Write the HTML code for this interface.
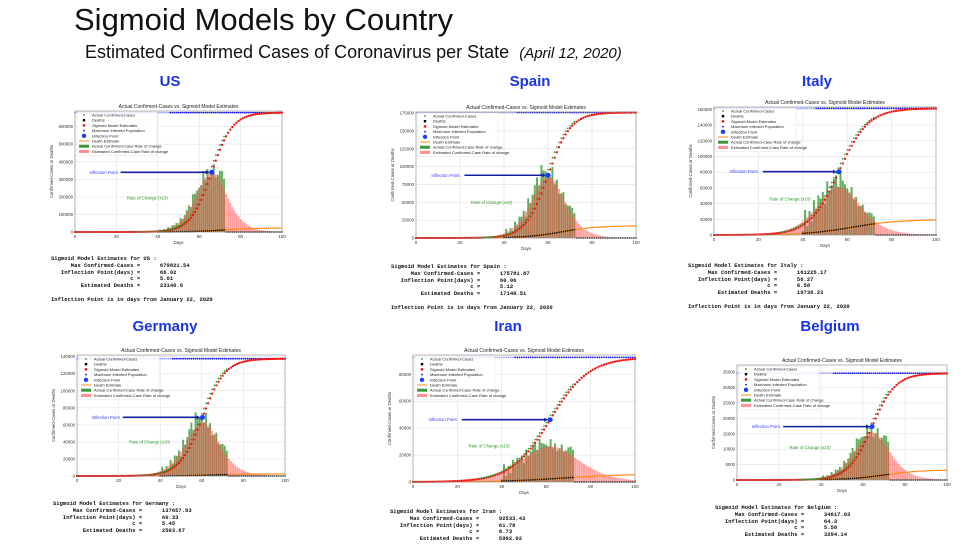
<!DOCTYPE html>
<html><head><meta charset="utf-8"><style>
body{margin:0;background:#fff;width:974px;height:547px;overflow:hidden;position:relative;font-family:"Liberation Sans",sans-serif}
.t{position:absolute;white-space:nowrap}
pre{position:absolute;margin:0;font-family:"Liberation Mono",monospace;font-size:5.5px;line-height:6.8px;color:#111;font-weight:bold}
.cn{position:absolute;color:#1a35e6;font-weight:bold;font-size:15px;transform:translateX(-50%)}
</style></head><body>
<div class="t" style="left:74px;top:2px;font-size:31px;color:#111">Sigmoid Models by Country</div>
<div class="t" style="left:85px;top:42px;font-size:18px;color:#111">Estimated Confirmed Cases of Coronavirus per State &nbsp;<i style="font-size:15px">(April 12, 2020)</i></div>
<div class="cn" style="left:170px;top:73px">US</div>
<div class="cn" style="left:530px;top:73px">Spain</div>
<div class="cn" style="left:817px;top:73px">Italy</div>
<div class="cn" style="left:165px;top:318px">Germany</div>
<div class="cn" style="left:508px;top:318px">Iran</div>
<div class="cn" style="left:830px;top:318px">Belgium</div>
<svg id="s" width="974" height="547" style="position:absolute;left:0;top:0"></svg>
<div id="texts"></div>
<script>
const countries = ['US','Spain','Italy','Germany','Iran','Belgium'];
const maxCases = [679821.54,175781.87,161225.17,137657.93,92533.43,34617.03];
const inflection = [66.02,60.06,56.27,60.33,61.78,64.3];
const cParam = [5.01,5.12,6.58,5.45,8.73,5.58];
const deaths = [23140.0,17148.51,19736.23,2503.67,5902.02,3294.14];
const yTickStep = [100000,25000,20000,20000,20000,5000];
const yAxisMax = [689000,176500,163000,142000,94300,37300];
const maxCasesText = ['679821.54','175781.87','161225.17','137657.93','92533.43','34617.03'];
const deathsText = ['23140.0','17148.51','19736.23','2503.67','5902.02','3294.14'];
const rateNoise = [0.3,1.6,0.5,1.2,0.6,1.4,0.9,1.3,1.1,1.2,0.8,1.3,1.0,1.1,1.2,1.25,1.0,1.3,1.15,1.1,1.05,1.0,1.2,0.95,1.1,0.9,1.0,1.15,0.95,1.05,1.2,1.3,1.25];
const xTicks = [0,20,40,60,80,100];

const L = [
 {l:75,r:282,t:111,b:232,tx:51,ty:256,inf:true},
 {l:416,r:636,t:112,b:238,tx:391,ty:264,inf:true},
 {l:714,r:936,t:107,b:235,tx:688,ty:263,inf:true},
 {l:77,r:285,t:355,b:476,tx:53,ty:501,inf:false},
 {l:413,r:635,t:355,b:482,tx:390,ty:509,inf:false},
 {l:737,r:947,t:365,b:480,tx:715,ty:505,inf:false}];
const NS='http://www.w3.org/2000/svg';
const svg=document.getElementById('s');
function mk(tag,attrs,parent){const e=document.createElementNS(NS,tag);for(const k in attrs)e.setAttribute(k,attrs[k]);(parent||svg).appendChild(e);return e;}
function fmt(v){return String(Math.round(v));}

countries.forEach((name,i)=>{
  const g=mk('g',{});
  
  
  const p=L[i],M=maxCases[i],t0=inflection[i],c=cParam[i],D=deaths[i],ym=yAxisMax[i];
  const X=d=>p.l+d/100*(p.r-p.l), Y=v=>p.b-v/ym*(p.b-p.t);
  const sig=t=>M/(1+Math.exp(-(t-t0)/c));
  const rate=t=>10*M*Math.exp(-(t-t0)/c)/(c*Math.pow(1+Math.exp(-(t-t0)/c),2));
  const dsig=t=>D/(1+Math.exp(-(t-t0-6)/(c*1.6)));
  xTicks.forEach(v=>{mk('line',{x1:X(v),x2:X(v),y1:p.t,y2:p.b,stroke:'#e2e2e2','stroke-width':0.6},g);
    const tl=mk('text',{x:X(v),y:p.b+6,'font-size':4.5,'text-anchor':'middle',fill:'#333'},g);tl.textContent=v;
    });
  for(let v=0;v<=ym;v+=yTickStep[i]){mk('line',{x1:p.l,x2:p.r,y1:Y(v),y2:Y(v),stroke:'#e2e2e2','stroke-width':0.6},g);
    const tl=mk('text',{x:p.l-2,y:Y(v)+1.5,'font-size':4.3,'text-anchor':'end',fill:'#333'},g);tl.textContent=fmt(v);
    }
  const bw=(p.r-p.l)/100*0.9;
  rateNoise.forEach((f,k)=>{const d=40+k;const v=rate(d)*f;const b=mk('rect',{x:X(d)-bw/2,y:Y(v),width:bw,height:p.b-Y(v),fill:'rgba(40,150,40,0.75)'},g);
    });
  for(let d=0;d<=100;d++){const v=rate(d);const b=mk('rect',{x:X(d)-bw/2,y:Y(v),width:bw,height:p.b-Y(v),fill:'rgba(255,80,80,0.55)'},g);
    }
  let pts=[];for(let d=0;d<=100;d++)pts.push(X(d)+','+Y(dsig(d)));
  const dl=mk('polyline',{points:pts.join(' '),fill:'none',stroke:'#ff8c1a','stroke-width':1.2},g);
  
  for(let d=40;d<=100;d++){const v=d<=72?dsig(d):0;const e=mk('rect',{x:X(d)-0.7,y:Y(v)-0.7,width:1.4,height:1.4,fill:'#000'},g);
    }
  for(let d=0;d<=100;d++){const e=mk('circle',{cx:X(d),cy:Y(M),r:0.9,fill:d<46?'#9aa6ff':'#1414e0'},g);
    }
  for(let d=0;d<=100;d++){const e=mk('rect',{x:X(d)-1,y:Y(sig(d))-1,width:2,height:2,fill:'#f01010'},g);
    }
  for(let d=30;d<=72;d++){const e=mk('circle',{cx:X(d),cy:Y(sig(d+1)),r:0.8,fill:'#1a9a1a'},g);
    }
  const iy=Y(M/2);
  const ar=mk('line',{x1:X(22),x2:X(t0)-4,y1:iy,y2:iy,stroke:'#1020a0','stroke-width':1.6},g);
  
  mk('polygon',{points:`${X(t0)-2},${iy} ${X(t0)-6},${iy-2} ${X(t0)-6},${iy+2}`,fill:'#1020a0'},g);
  const ip=mk('circle',{cx:X(t0),cy:iy,r:2.5,fill:'#1a3cff'},g);
  
  const il=mk('text',{x:X(7),y:iy+1.5,'font-size':4.3,fill:'#3a3aff'},g);il.textContent='Inflection Point';
  
  const rl=mk('text',{x:X(25),y:Y(ym*0.27),'font-size':4.3,fill:'#2a9a2a'},g);rl.textContent='Rate of Change (x10)';
  
  mk('rect',{x:p.l,y:p.t,width:p.r-p.l,height:p.b-p.t,fill:'none',stroke:'#888','stroke-width':0.6},g);
  const tt=mk('text',{x:(p.l+p.r)/2,y:p.t-3,'font-size':5,'text-anchor':'middle',fill:'#222'},g);tt.textContent='Actual Confirmed-Cases vs. Sigmoid Model Estimates';
  
  const xl=mk('text',{x:(p.l+p.r)/2,y:p.b+12,'font-size':4.3,'text-anchor':'middle',fill:'#333'},g);xl.textContent='Days';
  
  const yx=p.l-22,yy=(p.t+p.b)/2;
  const yl=mk('text',{x:yx,y:yy,'font-size':4.3,'text-anchor':'middle',fill:'#333',transform:`rotate(-90 ${yx} ${yy})`},g);yl.textContent='Confirmed-Cases or Deaths';
  
  const lg=mk('g',{},g);
  
  const items=[['Actual Confirmed-Cases','#1a9a1a','d'],['Deaths','#000','s'],['Sigmoid Model Estimates','#f01010','s'],['Maximum Infected Population','#1414e0','d'],['Inflection Point','#1a3cff','b'],['Death Estimate','#ff8c1a','l'],['Actual Confirmed-Case Rate of change','#3a9a3a','r'],['Estimated Confirmed-Case Rate of change','#ff9090','r']];
  const lx=p.l+3,ly0=p.t+4,sp=5.2;
  mk('rect',{x:lx-1,y:ly0-3,width:80,height:sp*items.length+2,fill:'rgba(255,255,255,0.8)',stroke:'#ddd','stroke-width':0.4},lg);
  items.forEach((it,k)=>{const y=ly0+k*sp;const cx=lx+6;
    if(it[2]=='d')mk('circle',{cx,cy:y,r:0.9,fill:it[1]},lg);
    else if(it[2]=='s')mk('rect',{x:cx-1.2,y:y-1.2,width:2.4,height:2.4,fill:it[1]},lg);
    else if(it[2]=='b')mk('circle',{cx,cy:y,r:2.2,fill:it[1]},lg);
    else if(it[2]=='l')mk('line',{x1:cx-5,x2:cx+5,y1:y,y2:y,stroke:it[1],'stroke-width':1},lg);
    else mk('rect',{x:cx-5,y:y-1.5,width:10,height:3,fill:it[1]},lg);
    const t=mk('text',{x:lx+14,y:y+1.5,'font-size':4,fill:'#222'},lg);t.textContent=it[0];
    });

  const pre=document.createElement('pre');
  
  
  pre.style.left=p.tx+'px';pre.style.top=p.ty+'px';
  let s='Sigmoid Model Estimates for '+name+' :\n'+
  '      Max Confirmed-Cases =      '+maxCasesText[i]+'\n'+
  '   Inflection Point(days) =      '+t0+'\n'+
  '                        c =      '+c.toFixed(2)+'\n'+
  '         Estimated Deaths =      '+deathsText[i];
  if(p.inf)s+='\n\nInflection Point is in days from January 22, 2020';
  pre.textContent=s;
  document.getElementById('texts').appendChild(pre);
});
</script>
</body></html>
